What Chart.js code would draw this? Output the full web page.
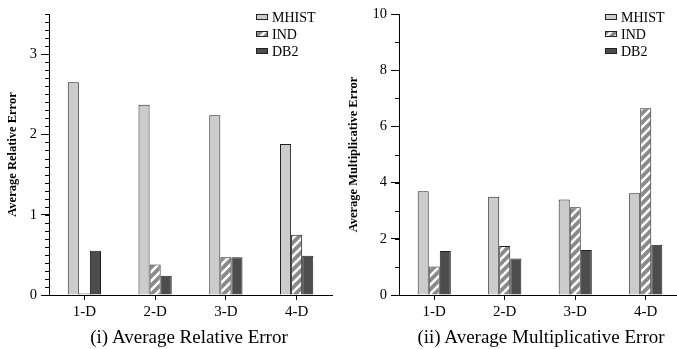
<!DOCTYPE html>
<html>
<head>
<meta charset="utf-8">
<script src="https://cdn.jsdelivr.net/npm/chart.js@4/dist/chart.umd.min.js"></script>
<style>
  html, body { margin: 0; padding: 0; background: #fff; }
  body { width: 677px; height: 349px; overflow: hidden; position: relative; }
  canvas { position: absolute; top: 0; }
  .cap { position: absolute; top: 327px; font: 19px "Liberation Serif", "Times New Roman", serif; line-height: 19px; color: #000; white-space: nowrap; transform: translateX(-50%); }
</style>
</head>
<body>
<canvas id="rel" width="340" height="349" style="left:0"></canvas>
<canvas id="mul" width="346" height="349" style="left:337px"></canvas>
<div class="cap" style="left:189px">(i) Average Relative Error</div>
<div class="cap" style="left:541px">(ii) Average Multiplicative Error</div>
<script>
// data
const categories = ['1-D', '2-D', '3-D', '4-D'];
const seriesNames = ['MHIST', 'IND', 'DB2'];
const relMhist = [2.65, 2.37, 2.24, 1.88];
const relInd = [0.02, 0.38, 0.47, 0.75];
const relDb2 = [0.55, 0.24, 0.47, 0.49];
const mulMhist = [3.69, 3.50, 3.40, 3.62];
const mulInd = [1.01, 1.74, 3.12, 6.65];
const mulDb2 = [1.57, 1.30, 1.60, 1.79];

Chart.defaults.font.family = '"Liberation Serif", "Times New Roman", serif';
Chart.defaults.color = '#000';

// diagonal white stripes on grey for IND
function hatch() {
  const c = document.createElement('canvas');
  c.width = 9; c.height = 9;
  const g = c.getContext('2d');
  g.fillStyle = '#8a8a8a';
  g.fillRect(0, 0, 9, 9);
  g.strokeStyle = '#fff';
  g.lineWidth = 2.6;
  g.beginPath();
  g.moveTo(-2, 11); g.lineTo(11, -2);
  g.moveTo(-2, 2); g.lineTo(2, -2);
  g.moveTo(7, 11); g.lineTo(11, 7);
  g.stroke();
  return g.createPattern(c, 'repeat');
}
const fills = ['#cccccc', hatch(), '#4d4d4d'];

const minorTicks = {
  id: 'minorTicks',
  afterDraw(chart, args, opts) {
    const y = chart.scales.y, ctx = chart.ctx;
    ctx.save();
    ctx.strokeStyle = '#000';
    ctx.lineWidth = 1;
    const n = Math.round(y.max / opts.step);
    for (let i = 0; i <= n; i++) {
      const p = Math.round(y.getPixelForValue(i * opts.step)) + 0.5;
      ctx.beginPath();
      ctx.moveTo(y.right - 4, p);
      ctx.lineTo(y.right, p);
      ctx.stroke();
    }
    ctx.restore();
  }
};

// legend in the top right corner of the plot
const boxLegend = {
  id: 'boxLegend',
  afterDraw(chart) {
    const ctx = chart.ctx, a = chart.chartArea;
    const x = a.right - 76;
    ctx.save();
    ctx.font = '14px "Liberation Serif", "Times New Roman", serif';
    ctx.textBaseline = 'middle';
    chart.data.datasets.forEach((ds, i) => {
      const yc = 17 + i * 17;
      ctx.fillStyle = ds.backgroundColor;
      ctx.fillRect(x, yc - 3, 12, 6);
      ctx.strokeStyle = '#222';
      ctx.lineWidth = 1;
      ctx.strokeRect(x + 0.5, yc - 2.5, 11, 5);
      ctx.fillStyle = '#000';
      ctx.fillText(ds.label, x + 16, yc + 1);
    });
    ctx.restore();
  }
};

function makeChart(id, values, yMax, step, minor, yTitle, axisW, titlePad, rightPad) {
  return new Chart(document.getElementById(id), {
    type: 'bar',
    data: {
      labels: categories,
      datasets: seriesNames.map((name, i) => ({
        label: name,
        data: values[i],
        backgroundColor: fills[i],
        borderColor: '#222',
        borderWidth: 1,
        borderSkipped: 'bottom'
      }))
    },
    options: {
      responsive: false,
      animation: false,
      layout: { padding: { top: 14, right: rightPad, bottom: 0, left: 0 } },
      plugins: {
        legend: { display: false },
        tooltip: { enabled: false },
        minorTicks: { step: minor }
      },
      datasets: { bar: { categoryPercentage: 0.47, barPercentage: 1 } },
      scales: {
        x: {
          grid: { display: true, drawOnChartArea: false, offset: false, tickLength: 5, color: '#000' },
          border: { color: '#000', width: 1 },
          ticks: { font: { size: 15 }, padding: 3, color: '#000' },
          afterFit: s => { s.height = 54; }
        },
        y: {
          min: 0,
          max: yMax,
          grid: { drawOnChartArea: false, tickLength: 8, color: '#000' },
          border: { color: '#000', width: 1 },
          ticks: { stepSize: step, includeBounds: false, font: { size: 14.5 }, padding: 4, color: '#000' },
          title: { display: true, text: yTitle, font: { size: 12.5, weight: 'bold' }, padding: { top: titlePad - 1, bottom: 0 } },
          afterFit: s => { s.width = axisW; }
        }
      }
    },
    plugins: [minorTicks, boxLegend]
  });
}

makeChart('rel', [relMhist, relInd, relDb2], 3.5, 1, 0.1, 'Average Relative Error', 49, 6, 8);
makeChart('mul', [mulMhist, mulInd, mulDb2], 10, 2, 1, 'Average Multiplicative Error', 62, 10, 2);
</script>
</body>
</html>
